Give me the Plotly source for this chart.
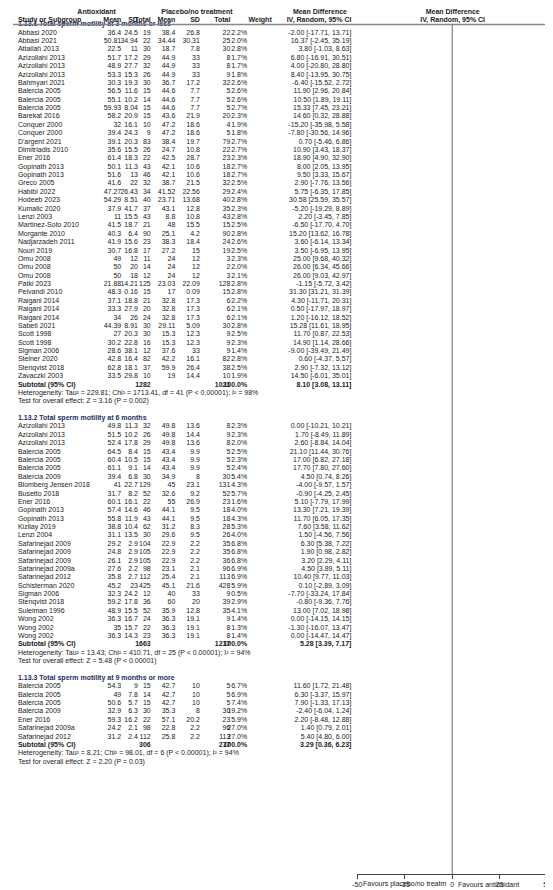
import plotly.graph_objects as go

# ---------------- DATA ----------------
names1 = ["Abbasi 2020","Abbasi 2021","Attallah 2013","Azizollahi 2013","Azizollahi 2013","Azizollahi 2013",
          "Bahmyari 2021","Balercia 2005","Balercia 2005","Balercia 2005","Barekat 2016","Conquer 2000","Conquer 2000",
          "D'argent 2021","Dimitriadis 2010","Ener 2016","Gopinath 2013","Gopinath 2013","Greco 2005","Habibi 2022",
          "Hodeeb 2023","Kumalic 2020","Lenzi 2003","Martinez-Soto 2010","Morgante 2010","Nadjarzadeh 2011","Nouri 2019",
          "Omu 2008","Omu 2008","Omu 2008","Patki 2023","Peivandi 2010","Raigani 2014","Raigani 2014","Raigani 2014",
          "Sabeti 2021","Scott 1998","Scott 1998","Sigman 2006","Steiner 2020","Stenqvist 2018","Zavaczki 2003"]
m1_1 = ["36.4","50.81","22.5","51.7","48.9","53.3","30.3","56.5","55.1","59.93","58.2","32","39.4","39.1","35.6","61.4","50.1","51.6","41.6","47.27","54.29","37.9","11","41.5","40.3","41.9","30.7","49","50","50","21.88","48.3","37.1","33.3","34","44.39","27","30.2","28.6","42.8","62.8","33.5"]
s1_1 = ["24.5","34.94","11","17.2","27.7","15.3","19.3","11.6","10.2","8.04","20.9","16.1","24.3","20.3","15.5","18.3","11.3","13","22","26.43","8.51","41.7","15.5","18.7","6.4","15.6","16.8","12","20","18","14.21","0.16","18.8","27.9","26","8.91","20.3","22.8","38.1","16.4","18.1","29.8"]
n1_1 = ["19","22","30","29","32","26","30","15","14","15","15","10","9","83","26","22","43","46","32","34","40","37","43","21","90","23","17","11","14","12","125","15","21","20","24","30","30","16","12","82","37","10"]
m2_1 = ["38.4","34.44","18.7","44.9","44.9","44.9","36.7","44.6","44.6","44.6","43.6","47.2","47.2","38.4","24.7","42.5","42.1","42.1","38.7","41.52","23.71","43.1","8.8","48","25.1","38.3","27.2","24","24","24","23.03","17","32.8","32.8","32.8","29.11","15.3","15.3","37.6","42.2","59.9","19"]
s2_1 = ["26.8","30.31","7.8","33","33","33","17.2","7.7","7.7","7.7","21.9","18.6","18.6","19.7","10.8","28.7","10.6","10.6","21.5","22.56","13.68","12.8","10.8","15.5","4.2","18.4","15","12","12","12","22.09","0.09","17.3","17.3","17.3","5.09","12.3","12.3","33","16.1","26.4","14.4"]
n2_1 = ["22","25","30","8","8","9","32","5","5","5","20","4","5","79","22","23","18","18","32","29","40","35","43","15","90","24","19","3","2","3","128","15","6","6","6","30","9","9","9","82","38","10"]
w_1 = [2.2,2.0,2.8,1.7,1.7,1.8,2.6,2.6,2.6,2.7,2.3,1.9,1.8,2.7,2.7,2.3,2.7,2.7,2.5,2.4,2.8,2.3,2.8,2.5,2.8,2.6,2.5,2.3,2.0,2.1,2.8,2.8,2.2,2.1,2.1,2.8,2.5,2.3,1.4,2.8,2.5,1.9]
md_1 = [-2.00,16.37,3.80,6.80,4.00,8.40,-6.40,11.90,10.50,15.33,14.60,-15.20,-7.80,0.70,10.90,18.90,8.00,9.50,2.90,5.75,30.58,-5.20,2.20,-6.50,15.20,3.60,3.50,25.00,26.00,26.00,-1.15,31.30,4.30,0.50,1.20,15.28,11.70,14.90,-9.00,0.60,2.90,14.50]
lo_1 = [-17.71,-2.45,-1.03,-16.91,-20.80,-13.95,-15.52,2.96,1.89,7.45,0.32,-35.98,-30.56,-5.46,3.43,4.90,2.05,3.33,-7.76,-6.35,25.59,-19.29,-3.45,-17.70,13.62,-6.14,-6.95,9.68,6.34,9.03,-5.72,31.21,-11.71,-17.97,-16.12,11.61,0.87,1.14,-39.49,-4.37,-7.32,-6.01]
hi_1 = [13.71,35.19,8.63,30.51,28.80,30.75,2.72,20.84,19.11,23.21,28.88,5.58,14.96,6.86,18.37,32.90,13.95,15.67,13.56,17.85,35.57,8.89,7.85,4.70,16.78,13.34,13.95,40.32,45.66,42.97,3.42,31.39,20.31,18.97,18.52,18.95,22.53,28.66,21.49,5.57,13.12,35.01]

names2 = ["Azizollahi 2013","Azizollahi 2013","Azizollahi 2013","Balercia 2005","Balercia 2005","Balercia 2005","Balercia 2009",
          "Blomberg Jensen 2018","Busetto 2018","Ener 2016","Gopinath 2013","Gopinath 2013","Kizilay 2019","Lenzi 2004",
          "Safarinejad 2009","Safarinejad 2009","Safarinejad 2009","Safarinejad 2009a","Safarinejad 2012","Schisterman 2020",
          "Sigman 2006","Stenqvist 2018","Suleiman 1996","Wong 2002","Wong 2002","Wong 2002"]
m1_2 = ["49.8","51.5","52.4","64.5","60.4","61.1","39.4","41","31.7","60.1","57.4","55.8","38.8","31.1","29.2","24.8","26.1","27.6","35.8","45.2","32.3","59.2","48.9","36.3","35","36.3"]
s1_2 = ["11.3","10.2","17.8","8.4","10.5","9.1","6.8","22.7","8.2","16.1","14.6","11.9","10.4","13.5","2.9","2.9","2.9","2.2","2.7","23","24.2","17.8","15.5","16.7","15.7","14.3"]
n1_2 = ["32","26","29","15","15","14","30","129","52","22","46","43","62","30","104","105","105","98","112","425","12","36","52","24","22","23"]
m2_2 = ["49.8","49.8","49.8","43.4","43.4","43.4","34.9","45","32.6","55","44.1","44.1","31.2","29.6","22.9","22.9","22.9","23.1","25.4","45.1","40","60","35.9","36.3","36.3","36.3"]
s2_2 = ["13.6","14.4","13.6","9.9","9.9","9.9","8","23.1","9.2","26.9","9.5","9.5","8.3","9.5","2.2","2.2","2.2","2.1","2.1","21.6","33","20","12.8","19.1","19.1","19.1"]
n2_2 = ["8","9","8","5","5","5","30","131","52","23","18","18","28","26","35","35","36","96","113","428","9","39","35","9","8","8"]
w_2 = [2.3,2.3,2.0,2.5,2.3,2.4,5.4,4.3,5.7,1.6,4.0,4.3,5.3,4.0,6.8,6.8,6.8,6.9,6.9,5.9,0.5,2.9,4.1,1.4,1.3,1.4]
md_2 = [0.00,1.70,2.60,21.10,17.00,17.70,4.50,-4.00,-0.90,5.10,13.30,11.70,7.60,1.50,6.30,1.90,3.20,4.50,10.40,0.10,-7.70,-0.80,13.00,0.00,-1.30,0.00]
lo_2 = [-10.21,-8.49,-8.84,11.44,6.82,7.80,0.74,-9.57,-4.25,-7.79,7.21,6.05,3.58,-4.56,5.38,0.98,2.29,3.89,9.77,-2.89,-33.24,-9.36,7.02,-14.15,-16.07,-14.47]
hi_2 = [10.21,11.89,14.04,30.76,27.18,27.60,8.26,1.57,2.45,17.99,19.39,17.35,11.62,7.56,7.22,2.82,4.11,5.11,11.03,3.09,17.84,7.76,18.98,14.15,13.47,14.47]

names3 = ["Balercia 2005","Balercia 2005","Balercia 2005","Balercia 2009","Ener 2016","Safarinejad 2009a","Safarinejad 2012"]
m1_3 = ["54.3","49","50.6","32.9","59.3","24.2","31.2"]
s1_3 = ["9","7.8","5.7","6.3","16.2","2.1","2.4"]
n1_3 = ["15","14","15","30","22","98","112"]
m2_3 = ["42.7","42.7","42.7","35.3","57.1","22.8","25.8"]
s2_3 = ["10","10","10","8","20.2","2.2","2.2"]
n2_3 = ["5","5","5","30","23","96","113"]
w_3 = [6.7,6.9,7.4,19.2,5.9,27.0,27.0]
md_3 = [11.60,6.30,7.90,-2.40,2.20,1.40,5.40]
lo_3 = [1.72,-3.37,-1.33,-6.04,-8.48,0.79,4.80]
hi_3 = [21.48,15.97,17.13,1.24,12.88,2.01,6.00]

sec_titles = ["1.13.1 Total sperm motility at 3 months or less",
              "1.13.2 Total sperm motility at 6 months",
              "1.13.3 Total sperm motility at 9 months or more"]
sub_n1 = ["1282", "1663", "306"]
sub_n2 = ["1021", "1217", "277"]
sub_md = [8.10, 5.28, 3.29]
sub_lo = [3.08, 3.39, 0.36]
sub_hi = [13.11, 7.17, 6.23]
het_txt = ["Heterogeneity: Tau² = 229.81; Chi² = 1713.41, df = 41 (P < 0.00001); I² = 98%",
           "Heterogeneity: Tau² = 13.43; Chi² = 410.71, df = 25 (P < 0.00001); I² = 94%",
           "Heterogeneity: Tau² = 8.21; Chi² = 98.01, df = 6 (P < 0.00001); I² = 94%"]
test_txt = ["Test for overall effect: Z = 3.16 (P = 0.002)",
            "Test for overall effect: Z = 5.48 (P < 0.00001)",
            "Test for overall effect: Z = 2.20 (P = 0.03)"]
ticks = [-50, -25, 0, 25, 50]
fav_left = "Favours placebo/no treatm"
fav_right = "Favours antioxidant"

sections = [
    (names1, m1_1, s1_1, n1_1, m2_1, s2_1, n2_1, w_1, md_1, lo_1, hi_1),
    (names2, m1_2, s1_2, n1_2, m2_2, s2_2, n2_2, w_2, md_2, lo_2, hi_2),
    (names3, m1_3, s1_3, n1_3, m2_3, s2_3, n2_3, w_3, md_3, lo_3, hi_3),
]

# ---------------- LAYOUT CONSTANTS ----------------
W, H = 553, 890
Y0, RH = 16.5, 8.38
AXIS_Y = 866
FONT = "Liberation Sans"
FS = 7
col_x = {"m1": 110, "s1": 127, "n1": 140, "m2": 165, "s2": 190, "n2": 221, "w": 238, "ci": 344}

def ci(md, lo, hi):
    return f"{md:.2f} [{lo:.2f}, {hi:.2f}]"

left_x, left_y, left_t = [], [], []
cols = {k: ([], [], []) for k in col_x}
bold_cols = {k: ([], [], []) for k in col_x}
sec_y, het_y, test_y, sub_y = [], [], [], []
study_pts = []
diamonds = []

r = 0
for si, sec in enumerate(sections):
    names, m1, s1, n1, m2, s2, n2, w, md, lo, hi = sec
    sec_y.append(Y0 + r * RH); r += 1
    for i in range(len(names)):
        y = Y0 + r * RH
        left_x.append(5); left_y.append(y); left_t.append(names[i])
        vals = {"m1": m1[i], "s1": s1[i], "n1": n1[i], "m2": m2[i], "s2": s2[i], "n2": n2[i],
                "w": f"{w[i]:.1f}%", "ci": ci(md[i], lo[i], hi[i])}
        for k, v in vals.items():
            cols[k][0].append(col_x[k]); cols[k][1].append(y); cols[k][2].append(v)
        study_pts.append((y, md[i], lo[i], hi[i], w[i]))
        r += 1
    y = Y0 + r * RH
    sub_y.append(y)
    diamonds.append((y, sub_md[si], sub_lo[si], sub_hi[si]))
    bv = {"n1": sub_n1[si], "n2": sub_n2[si], "w": "100.0%", "ci": ci(sub_md[si], sub_lo[si], sub_hi[si])}
    for k, v in bv.items():
        bold_cols[k][0].append(col_x[k]); bold_cols[k][1].append(y); bold_cols[k][2].append(v)
    r += 1
    het_y.append(Y0 + r * RH); r += 1
    test_y.append(Y0 + r * RH); r += 1
    r += 1

fig = go.Figure()

def text_trace(x, y, t, pos, bold=False, color="#222"):
    fig.add_trace(go.Scatter(x=x, y=y, text=[f"<b>{s}</b>" if bold else s for s in t],
                             mode="text", textposition=pos, xaxis="x2", yaxis="y2",
                             textfont=dict(family=FONT, size=FS, color=color),
                             hoverinfo="skip", showlegend=False, cliponaxis=False))

# forest marks
for (y, md, lo, hi, w) in study_pts:
    fig.add_trace(go.Scatter(x=[max(lo, -50), min(hi, 50)], y=[y, y], mode="lines",
                             line=dict(color="#555", width=1), hoverinfo="skip", showlegend=False))
fig.add_trace(go.Scatter(x=[p[1] for p in study_pts], y=[p[0] for p in study_pts], mode="markers",
                         marker=dict(symbol="square", color="#22cc22", size=[1.5 + p[4] * 0.2 for p in study_pts], line=dict(width=0)),
                         hoverinfo="skip", showlegend=False))
for (y, md, lo, hi) in diamonds:
    fig.add_trace(go.Scatter(x=[lo, md, hi, md, lo], y=[y, y - 3.5, y, y + 3.5, y], mode="lines",
                             fill="toself", fillcolor="black", line=dict(color="black", width=0.5),
                             hoverinfo="skip", showlegend=False))

# texts
text_trace(left_x, left_y, left_t, "middle right")
for k in col_x:
    text_trace(cols[k][0], cols[k][1], cols[k][2], "middle left")
    if bold_cols[k][0]:
        text_trace(bold_cols[k][0], bold_cols[k][1], bold_cols[k][2], "middle left", bold=True)
text_trace([5] * 3, sub_y, ["Subtotal (95% CI)"] * 3, "middle right", bold=True)
text_trace([5] * 3, sec_y, sec_titles, "middle right", bold=True, color="#1a2f5a")
text_trace([5] * 3, het_y, het_txt, "middle right")
text_trace([5] * 3, test_y, test_txt, "middle right")

# headers
text_trace([85, 187, 312, 447], [4, 4, 4, 4], ["Antioxidant", "Placebo/no treatment", "Mean Difference", "Mean Difference"], "middle center", bold=True)
text_trace([5], [12], ["Study or Subgroup"], "middle right", bold=True)
hx = [110, 127, 140, 165, 190, 221, 263, 344]
ht = ["Mean", "SD", "Total", "Mean", "SD", "Total", "Weight", "IV, Random, 95% CI"]
text_trace(hx, [12] * len(hx), ht, "middle left", bold=True)
text_trace([447], [12], ["IV, Random, 95% CI"], "middle center", bold=True)

fig.add_shape(type="line", xref="x2", yref="y2", x0=0, x1=553, y0=16.5, y1=16.5, line=dict(color="#888", width=1.5))
fig.add_shape(type="line", xref="x", yref="y", x0=0, x1=0, y0=17, y1=AXIS_Y, line=dict(color="#666", width=1))

fig.add_annotation(xref="x", yref="paper", x=-2, y=(H - 882) / H, text=fav_left, xanchor="right",
                   showarrow=False, font=dict(family=FONT, size=FS, color="#222"))
fig.add_annotation(xref="x", yref="paper", x=2, y=(H - 882) / H, text=fav_right, xanchor="left",
                   showarrow=False, font=dict(family=FONT, size=FS, color="#222"))

ydom = [(H - AXIS_Y) / H, 1]
fig.update_layout(
    width=W, height=H, margin=dict(l=0, r=0, t=0, b=0),
    plot_bgcolor="white", paper_bgcolor="white",
    xaxis=dict(domain=[350 / W, 543 / W], range=[-50, 50], tickvals=ticks, ticktext=[str(t) for t in ticks],
               showgrid=False, zeroline=False, showline=True, linecolor="#444", ticks="outside", ticklen=4,
               tickcolor="#444", tickfont=dict(family=FONT, size=FS, color="#222"), anchor="y"),
    yaxis=dict(domain=ydom, range=[AXIS_Y, 0], visible=False, anchor="x"),
    xaxis2=dict(domain=[0, 1], range=[0, W], visible=False, anchor="y2"),
    yaxis2=dict(domain=ydom, range=[AXIS_Y, 0], visible=False, anchor="x2"),
)
fig.write_html("out.html")
